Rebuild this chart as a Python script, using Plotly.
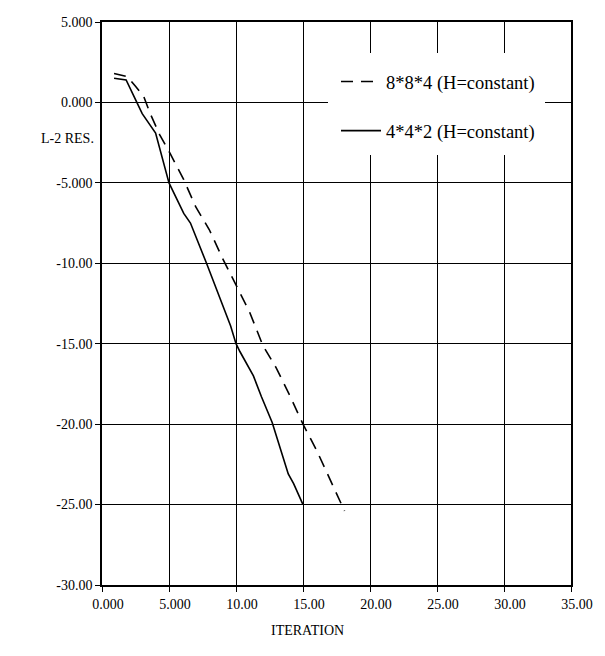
import plotly.graph_objects as go

# Data
dash_x = [0.9, 1.9, 2.5, 3.1, 3.6, 4.3, 5.1, 6.1, 7.0, 8.0, 9.0, 10.0, 11.0, 12.0, 13.0, 14.0, 15.0, 16.0, 17.0, 18.1]
dash_y = [1.8, 1.6, 1.0, 0.4, -0.7, -2.0, -3.2, -4.8, -6.5, -7.9, -9.7, -11.4, -13.0, -15.1, -16.5, -18.2, -20.0, -21.6, -23.4, -25.4]
solid_x = [0.9, 1.8, 2.6, 3.0, 4.0, 5.0, 6.1, 6.6, 7.8, 8.5, 9.6, 10.0, 10.3, 11.3, 11.9, 12.7, 13.3, 13.9, 14.3, 15.0]
solid_y = [1.5, 1.4, 0.0, -0.7, -1.9, -5.0, -6.9, -7.5, -10.0, -11.5, -13.9, -15.0, -15.5, -17.0, -18.3, -19.9, -21.5, -23.1, -23.7, -25.0]
series_names = ["8*8*4 (H=constant)", "4*4*2 (H=constant)"]

x_ticks = [0, 5, 10, 15, 20, 25, 30, 35]
x_labels = ["0.000", "5.000", "10.00", "15.00", "20.00", "25.00", "30.00", "35.00"]
y_ticks = [5, 0, -5, -10, -15, -20, -25, -30]
y_labels = ["5.000", "0.000", "-5.000", "-10.00", "-15.00", "-20.00", "-25.00", "-30.00"]

FONT = "Liberation Serif, Times New Roman, serif"

# plot-area pixel frame (for placing paper-referenced items)
plot_l, plot_r, plot_t, plot_b = 102, 571, 22, 585
def px(pxx):
    return (pxx - plot_l) / (plot_r - plot_l)
def py(pyy):
    return 1 - (pyy - plot_t) / (plot_b - plot_t)

fig = go.Figure()
fig.add_trace(go.Scatter(x=dash_x, y=dash_y, mode="lines", name=series_names[0],
                         legendgroup="a",
                         line=dict(color="black", width=1.6, dash="12px,8px")))
fig.add_trace(go.Scatter(x=solid_x, y=solid_y, mode="lines", name=series_names[1],
                         legendgroup="b",
                         line=dict(color="black", width=1.6)))

fig.update_layout(
    width=605, height=656,
    margin=dict(l=plot_l, r=605 - plot_r, t=plot_t, b=656 - plot_b),
    paper_bgcolor="white", plot_bgcolor="white",
    font=dict(family=FONT, size=14, color="black"),
    showlegend=True,
    legend=dict(x=px(336), y=py(63), xanchor="left", yanchor="top",
                bgcolor="rgba(0,0,0,0)", borderwidth=0,
                font=dict(family=FONT, size=18.5, color="black"),
                itemwidth=40, tracegroupgap=22),
    xaxis=dict(range=[0, 35], tickvals=x_ticks, ticktext=x_labels,
               showgrid=True, gridcolor="black", gridwidth=1,
               zeroline=False, showline=True, linecolor="black", linewidth=1.5,
               mirror=True, ticks="outside", ticklen=5, tickcolor="black",
               tickfont=dict(family=FONT, size=14), ticklabelshift=6),
    yaxis=dict(range=[-30, 5], tickvals=y_ticks, ticktext=y_labels,
               showgrid=True, gridcolor="black", gridwidth=1,
               zeroline=False, showline=True, linecolor="black", linewidth=1.5,
               mirror=True, ticks="outside", ticklen=5, tickcolor="black",
               tickfont=dict(family=FONT, size=14)),
    shapes=[
        dict(type="rect", xref="paper", yref="paper",
             x0=px(328), x1=px(545), y0=py(155), y1=py(53),
             fillcolor="white", line=dict(width=0), layer="above"),
    ],
    annotations=[
        dict(text="L-2 RES.", x=px(67), y=py(138), xref="paper", yref="paper",
             xanchor="center", yanchor="middle",
             showarrow=False, font=dict(family=FONT, size=14)),
        dict(text="ITERATION", x=px(307), y=py(630), xref="paper", yref="paper",
             xanchor="center", yanchor="middle",
             showarrow=False, font=dict(family=FONT, size=14)),
    ],
)

fig.write_html("out.html")
